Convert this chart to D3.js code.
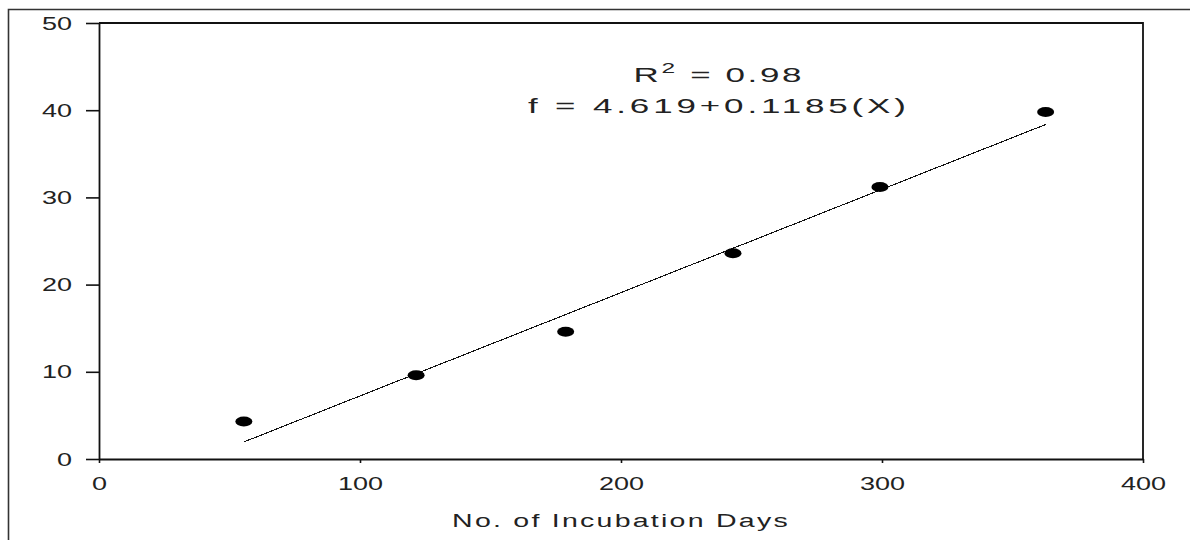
<!DOCTYPE html>
<html>
<head>
<meta charset="utf-8">
<script src="https://cdn.jsdelivr.net/npm/d3@7"></script>
<style>
  html, body { margin: 0; padding: 0; background: #fff; }
  svg { display: block; }
  text { font-family: "Liberation Sans", Arial, sans-serif; fill: #222; }
</style>
</head>
<body>
<svg id="chart" width="1190" height="540"></svg>
<script>
// ---- data ----
const days = [55.5, 121.5, 178.8, 242.9, 299.2, 362.7];
const values = [4.3, 9.6, 14.6, 23.6, 31.2, 39.8];
const xTicks = [0, 100, 200, 300, 400];
const yTicks = [0, 10, 20, 30, 40, 50];
const fitIntercept = -4.619;
const fitSlope = 0.1185;
const r2Label = "0.98";
const eqLabel = "f = 4.619+0.1185(X)";
const xTitle = "No. of Incubation Days";

// ---- layout ----
const svg = d3.select("#chart");
const x = d3.scaleLinear().domain([0, 400]).range([99, 1143]);
const y = d3.scaleLinear().domain([0, 50]).range([459, 23]);

// outer frame
svg.append("path")
  .attr("d", "M8.5,540 V9.5 H1190")
  .attr("fill", "none").attr("stroke", "#333").attr("stroke-width", 1.6);

// plot frame (top and right)
svg.append("path")
  .attr("d", `M${x(0)},${y(50)} H${x(400)} V${y(0)}`)
  .attr("fill", "none").attr("stroke", "#111").attr("stroke-width", 1.8);

// y axis
const gy = svg.append("g")
  .attr("transform", `translate(${x(0)},0)`)
  .call(d3.axisLeft(y).tickValues(yTicks).tickSize(13).tickSizeOuter(0).tickFormat(d3.format("d")));
gy.select(".domain").attr("stroke", "#111").attr("stroke-width", 1.8);
gy.selectAll(".tick line").attr("stroke", "#111").attr("stroke-width", 1.6);
gy.selectAll(".tick text")
  .attr("x", 0).attr("dy", "0.34em")
  .attr("text-anchor", "end")
  .attr("transform", "translate(-27,0) scale(1.5,1)")
  .style("font-size", "18px")
  .style("font-family", "'Liberation Sans', Arial, sans-serif")
  .attr("fill", "#222");

// x axis
const gx = svg.append("g")
  .attr("transform", `translate(0,${y(0)})`)
  .call(d3.axisBottom(x).tickValues(xTicks).tickSize(4).tickSizeOuter(0).tickFormat(d3.format("d")));
gx.select(".domain").attr("stroke", "#111").attr("stroke-width", 1.8);
gx.selectAll(".tick line").attr("stroke", "#111").attr("stroke-width", 1.6);
gx.selectAll(".tick text")
  .attr("y", 0).attr("dy", 0)
  .attr("text-anchor", "middle")
  .attr("transform", "translate(0,31) scale(1.5,1)")
  .style("font-size", "18px")
  .style("font-family", "'Liberation Sans', Arial, sans-serif")
  .attr("fill", "#222");

// regression line
const xMin = d3.min(days), xMax = d3.max(days);
svg.append("line")
  .attr("x1", x(xMin)).attr("y1", y(fitIntercept + fitSlope * xMin))
  .attr("x2", x(xMax)).attr("y2", y(fitIntercept + fitSlope * xMax))
  .attr("stroke", "#111").attr("stroke-width", 1.1)
  .attr("shape-rendering", "crispEdges");

// points
svg.append("g").selectAll("ellipse")
  .data(days.map((d, i) => [d, values[i]]))
  .join("ellipse")
  .attr("cx", d => x(d[0])).attr("cy", d => y(d[1]))
  .attr("rx", 8.5).attr("ry", 5)
  .attr("fill", "#000");

// annotation
const annX = 237.5;
const r2 = svg.append("text")
  .attr("text-anchor", "middle")
  .attr("transform", `translate(${x(annX)},${y(43.25)}) scale(1.75,1)`)
  .style("font-size", "20px")
  .style("letter-spacing", "1.5px");
r2.append("tspan").text("R");
r2.append("tspan").attr("dy", -9).style("font-size", "14px").text("2");
r2.append("tspan").attr("dy", 9).text(" = " + r2Label);

svg.append("text")
  .attr("text-anchor", "middle")
  .attr("transform", `translate(${x(annX)},${y(39.68)}) scale(1.75,1)`)
  .style("font-size", "20px")
  .style("letter-spacing", "2.2px")
  .text(eqLabel);

// x axis title
svg.append("text")
  .attr("text-anchor", "middle")
  .attr("transform", `translate(${x(200)},527) scale(1.5,1)`)
  .style("font-size", "19px")
  .style("letter-spacing", "1.5px")
  .text(xTitle);
</script>
</body>
</html>
